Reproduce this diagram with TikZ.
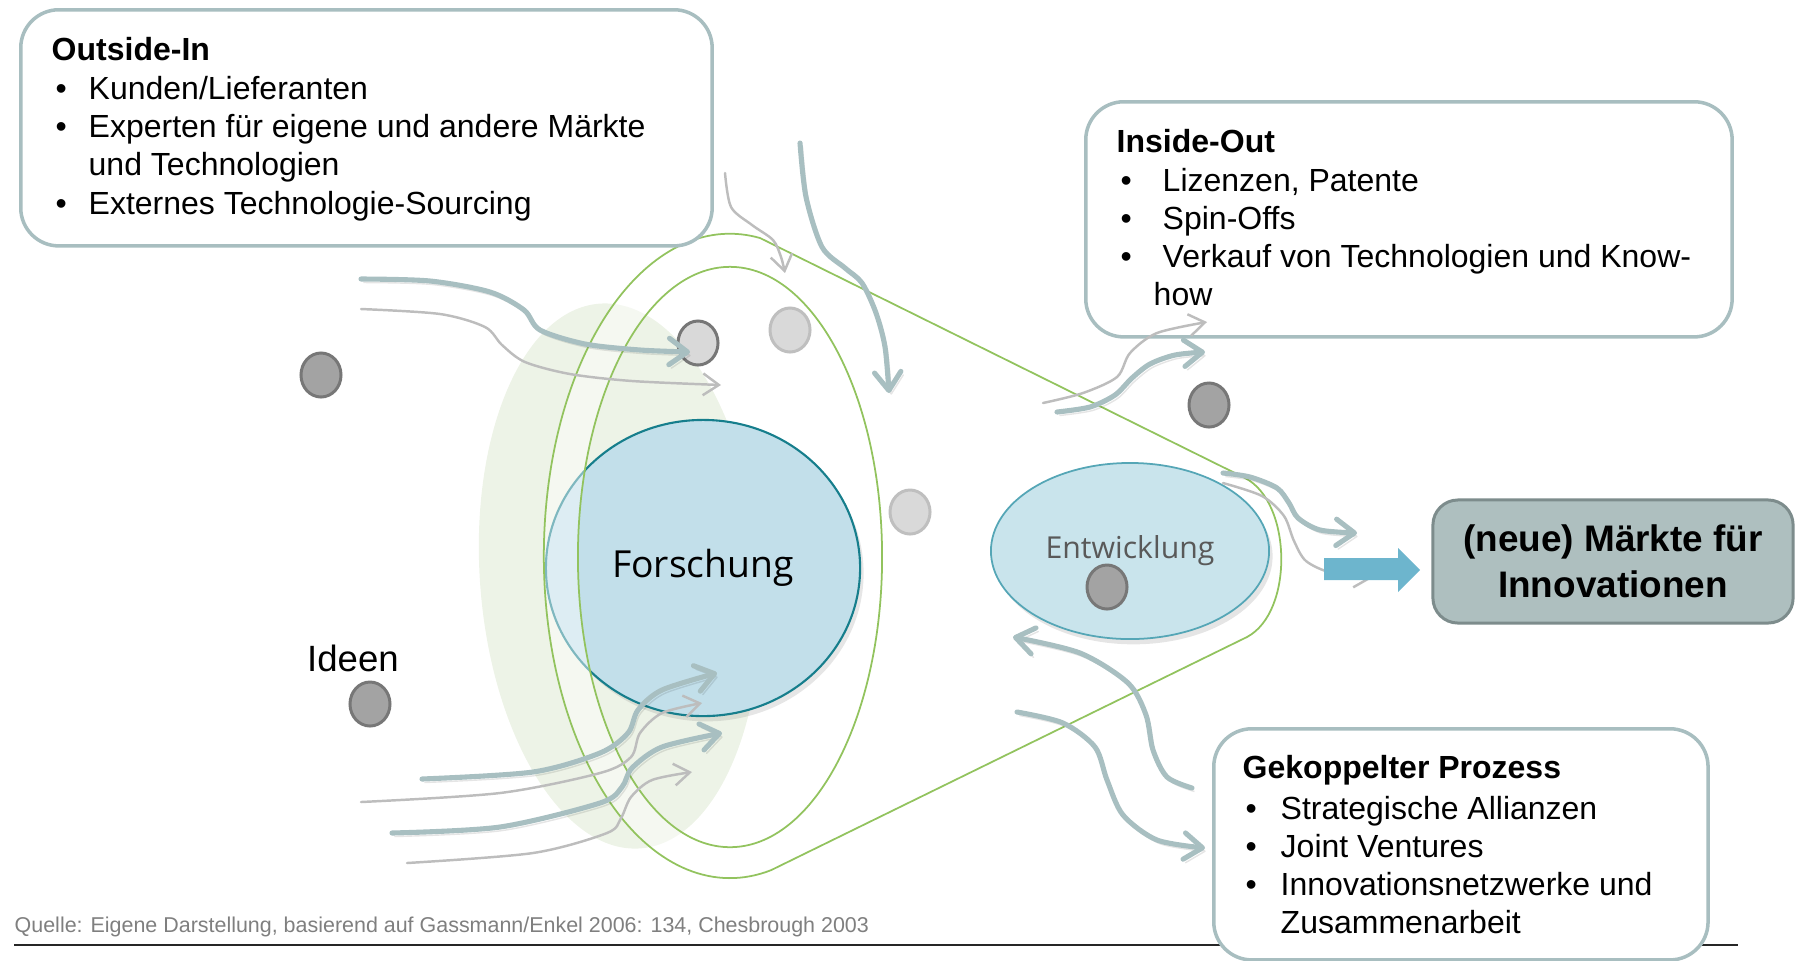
\documentclass[tikz,border=0pt]{standalone}
\usepackage{fontspec}
\setmainfont{Liberation Sans}
\newfontfamily\bubblefont{Open Sans}
\usetikzlibrary{shapes.geometric, arrows.meta, shadows}

\definecolor{boxedge}{HTML}{A8BEC0}
\definecolor{flowc}{HTML}{A8BFC1}
\definecolor{thinc}{HTML}{BDBDBD}
\definecolor{funnelc}{HTML}{92C35E}
\definecolor{blobc}{HTML}{EDF3E7}
\definecolor{forfill}{HTML}{C2DFEA}
\definecolor{foredge}{HTML}{167E8C}
\definecolor{entfill}{HTML}{C9E4EC}
\definecolor{entedge}{HTML}{55A6B6}
\definecolor{dotfill}{HTML}{A3A3A3}
\definecolor{dotedge}{HTML}{777777}
\definecolor{dotlight}{HTML}{D9D9D9}
\definecolor{dotlightedge}{HTML}{BFBFBF}
\definecolor{mktfill}{HTML}{AEBFBF}
\definecolor{mktedge}{HTML}{7D8C8C}
\definecolor{bluearrow}{HTML}{6DB5CD}
\definecolor{sourcec}{HTML}{7F7F7F}

\begin{document}
\begin{tikzpicture}[x=0.01cm, y=-0.01cm,
  textbox/.style={draw=boxedge, line width=1pt, rounded corners=0.38cm, fill=white,
    inner sep=0, anchor=north west},
  boxline/.style={anchor=base west, inner sep=0, font=\fontsize{9.1pt}{11pt}\selectfont},
  boxhead/.style={boxline, font=\fontsize{9.1pt}{11pt}\selectfont\bfseries},
  bul/.style={boxline},
  dotdark/.style={ellipse, minimum width=0.40cm, minimum height=0.44cm, inner sep=0,
    fill=dotfill, draw=dotedge, line width=0.85pt},
  dotpale/.style={dotdark, fill=dotlight, draw=dotlightedge},
  dotring/.style={dotdark, fill=dotlight, draw=dotedge},
  thickflow/.style={draw=flowc, line width=1.45pt, line cap=round,
    -{Straight Barb[length=5.2pt, width=7.5pt, round]},
    preaction={draw=black, draw opacity=0.10, transform canvas={xshift=0.7pt, yshift=-1pt}}},
  thinflow/.style={draw=thinc, line width=0.7pt, line cap=round,
    -{Straight Barb[length=4.5pt, width=6.2pt]}},
  funnel/.style={draw=funnelc, line width=0.5pt},
  ]
\useasboundingbox (0,0) rectangle (1795,960);

% footer rule
\draw[line width=0.45pt, black!85] (14,945) -- (1738,945);

% pale background area behind research
\fill[blobc, rotate around={4.3:(620,576)}] (620,576) ellipse [x radius=1.40cm, y radius=2.73cm];

% research
\node[ellipse, minimum width=3.14cm, minimum height=2.96cm, inner sep=0,
  fill=forfill, draw=foredge, line width=0.6pt,
  drop shadow={shadow xshift=1pt, shadow yshift=-1.5pt, opacity=0.2},
  font=\bubblefont\fontsize{10.6pt}{12pt}\selectfont] (forschung) at (703,568) {Forschung};

% funnel: lighter band between the two outlines
\fill[white, fill opacity=0.45, even odd rule]
  (760,238) arc[start angle=80.7, end angle=282.8, x radius=1.86cm, y radius=3.22cm]
  -- (1247,637) .. controls (1294,612) and (1292,502) .. (1245,478) -- cycle
  (730,557) ellipse [x radius=1.52cm, y radius=2.90cm];
\draw[funnel]
  (760,238) arc[start angle=80.7, end angle=282.8, x radius=1.86cm, y radius=3.22cm]
  -- (1247,637) .. controls (1294,612) and (1292,502) .. (1245,478) -- cycle;
\draw[funnel] (730,557) ellipse [x radius=1.52cm, y radius=2.90cm];

% development
\node[ellipse, minimum width=2.78cm, minimum height=1.76cm, inner sep=0,
  fill=entfill, draw=entedge, line width=0.5pt,
  drop shadow={shadow xshift=1pt, shadow yshift=-1.5pt, opacity=0.2},
  text=black!65, font=\bubblefont\fontsize{8.6pt}{10pt}\selectfont] (entwicklung) at (1130,551) {\raisebox{2pt}{Entwicklung}};

% ideas
\node[dotdark] (d1) at (321,375) {};
\node[dotdark] (d2) at (370,704) {};
\node[dotring] (d3) at (698,343) {};
\node[dotpale] (d4) at (790,330) {};
\node[dotpale] (d5) at (910,512) {};
\node[dotdark] (d6) at (1209,405) {};
\node[dotdark] (d7) at (1107,587) {};
\node[inner sep=0, font=\fontsize{10.4pt}{12pt}\selectfont] (ideen) at (353,658) {Ideen};

% Outside-In
\node[textbox, minimum width=6.91cm, minimum height=2.36cm] (outin) at (19,8) {};
\node[boxhead] (oi0) at (51,60) {Outside-In};
\node[bul] (oib1) at (55,99) {•};
\node[boxline] (oi1) at (88,99) {Kunden/Lieferanten};
\node[bul] (oib2) at (55,137) {•};
\node[boxline] (oi2) at (88,137) {Experten für eigene und andere Märkte};
\node[boxline] (oi3) at (88,175) {und Technologien};
\node[bul] (oib4) at (55,214) {•};
\node[boxline] (oi4) at (88,214) {Externes Technologie-Sourcing};

% Inside-Out
\node[textbox, minimum width=6.46cm, minimum height=2.35cm] (inout) at (1084,100) {};
\node[boxhead] (io0) at (1116,152) {Inside-Out};
\node[bul] (iob1) at (1120,191) {•};
\node[boxline] (io1) at (1162,191) {Lizenzen, Patente};
\node[bul] (iob2) at (1120,229) {•};
\node[boxline] (io2) at (1162,229) {Spin-Offs};
\node[bul] (iob3) at (1120,267) {•};
\node[boxline] (io3) at (1162,267) {Verkauf von Technologien und Know-};
\node[boxline] (io4) at (1153,305) {how};

% coupled process
\node[textbox, minimum width=4.94cm, minimum height=2.31cm] (coupled) at (1212,727) {};
\node[boxhead] (cp0) at (1242,778) {Gekoppelter Prozess};
\node[bul] (cpb1) at (1245,819) {•};
\node[boxline] (cp1) at (1280,819) {Strategische Allianzen};
\node[bul] (cpb2) at (1245,857) {•};
\node[boxline] (cp2) at (1280,857) {Joint Ventures};
\node[bul] (cpb3) at (1245,895) {•};
\node[boxline] (cp3) at (1280,895) {Innovationsnetzwerke und};
\node[boxline] (cp4) at (1280,933) {Zusammenarbeit};

% source line
\node[anchor=base west, inner sep=0, text=sourcec, font=\fontsize{6.1pt}{7pt}\selectfont] (quelle) at (14,932)
  {Quelle: Eigene Darstellung, basierend auf Gassmann/Enkel 2006: 134, Chesbrough 2003};

% knowledge flows from outside
\draw[thickflow] plot[smooth] coordinates {(361,279) (430,281) (490,292) (524,310) (540,330) (585,344) (640,350) (690,352)};
\draw[thinflow] plot[smooth] coordinates {(361,309) (440,314) (485,327) (502,345) (525,362) (570,374) (632,381) (721,385)};
\draw[thinflow] plot[smooth] coordinates {(725,173) (731,207) (752,225) (773,240) (781,257) (785,273)};
\draw[thickflow] plot[smooth] coordinates {(800,143) (806,197) (822,247) (845,268) (862,283) (876,313) (885,347) (889,393)};
\draw[thickflow] plot[smooth] coordinates {(422,779) (533,772) (600,753) (628,733) (638,710) (662,690) (717,673)};
\draw[thinflow] plot[smooth] coordinates {(361,802) (500,793) (600,773) (631,757) (640,733) (662,713) (702,703)};
\draw[thickflow] plot[smooth] coordinates {(392,833) (500,827) (600,803) (622,787) (632,768) (662,747) (722,733)};
\draw[thinflow] plot[smooth] coordinates {(407,863) (533,853) (607,833) (621,818) (631,797) (652,780) (692,772)};

% flows to the outside
\draw[thinflow] plot[smooth] coordinates {(1043,403) (1083,393) (1117,377) (1130,353) (1157,333) (1207,322)};
\draw[thickflow] plot[smooth] coordinates {(1057,412) (1090,407) (1115,395) (1132,378) (1150,364) (1175,355) (1205,352)};
\draw[thickflow] plot[smooth] coordinates {(1223,473) (1250,477) (1277,488) (1289,503) (1298,518) (1320,530) (1357,533)};
\draw[thinflow] plot[smooth] coordinates {(1223,483) (1262,496) (1284,516) (1294,541) (1306,561) (1332,573) (1372,578)};
\draw[thickflow] plot[smooth] coordinates {(1192,788) (1167,777) (1153,750) (1146,715) (1128,683) (1080,653) (1013,637)};
\draw[thickflow] plot[smooth] coordinates {(1017,712) (1063,723) (1095,747) (1107,780) (1123,815) (1157,840) (1205,848)};

% into the markets
\fill[bluearrow] (1324,558) -- (1398,558) -- (1398,548) -- (1420,570) -- (1398,592) -- (1398,580) -- (1324,580) -- cycle;
\node[draw=mktedge, fill=mktfill, line width=0.85pt, rounded corners=0.25cm,
  minimum width=3.60cm, minimum height=1.23cm, inner sep=0, align=center,
  font=\fontsize{10.5pt}{13.1pt}\selectfont\bfseries] (markets) at (1613,561.5)
  {(neue) Märkte für\\Innovationen};
\end{tikzpicture}
\end{document}
